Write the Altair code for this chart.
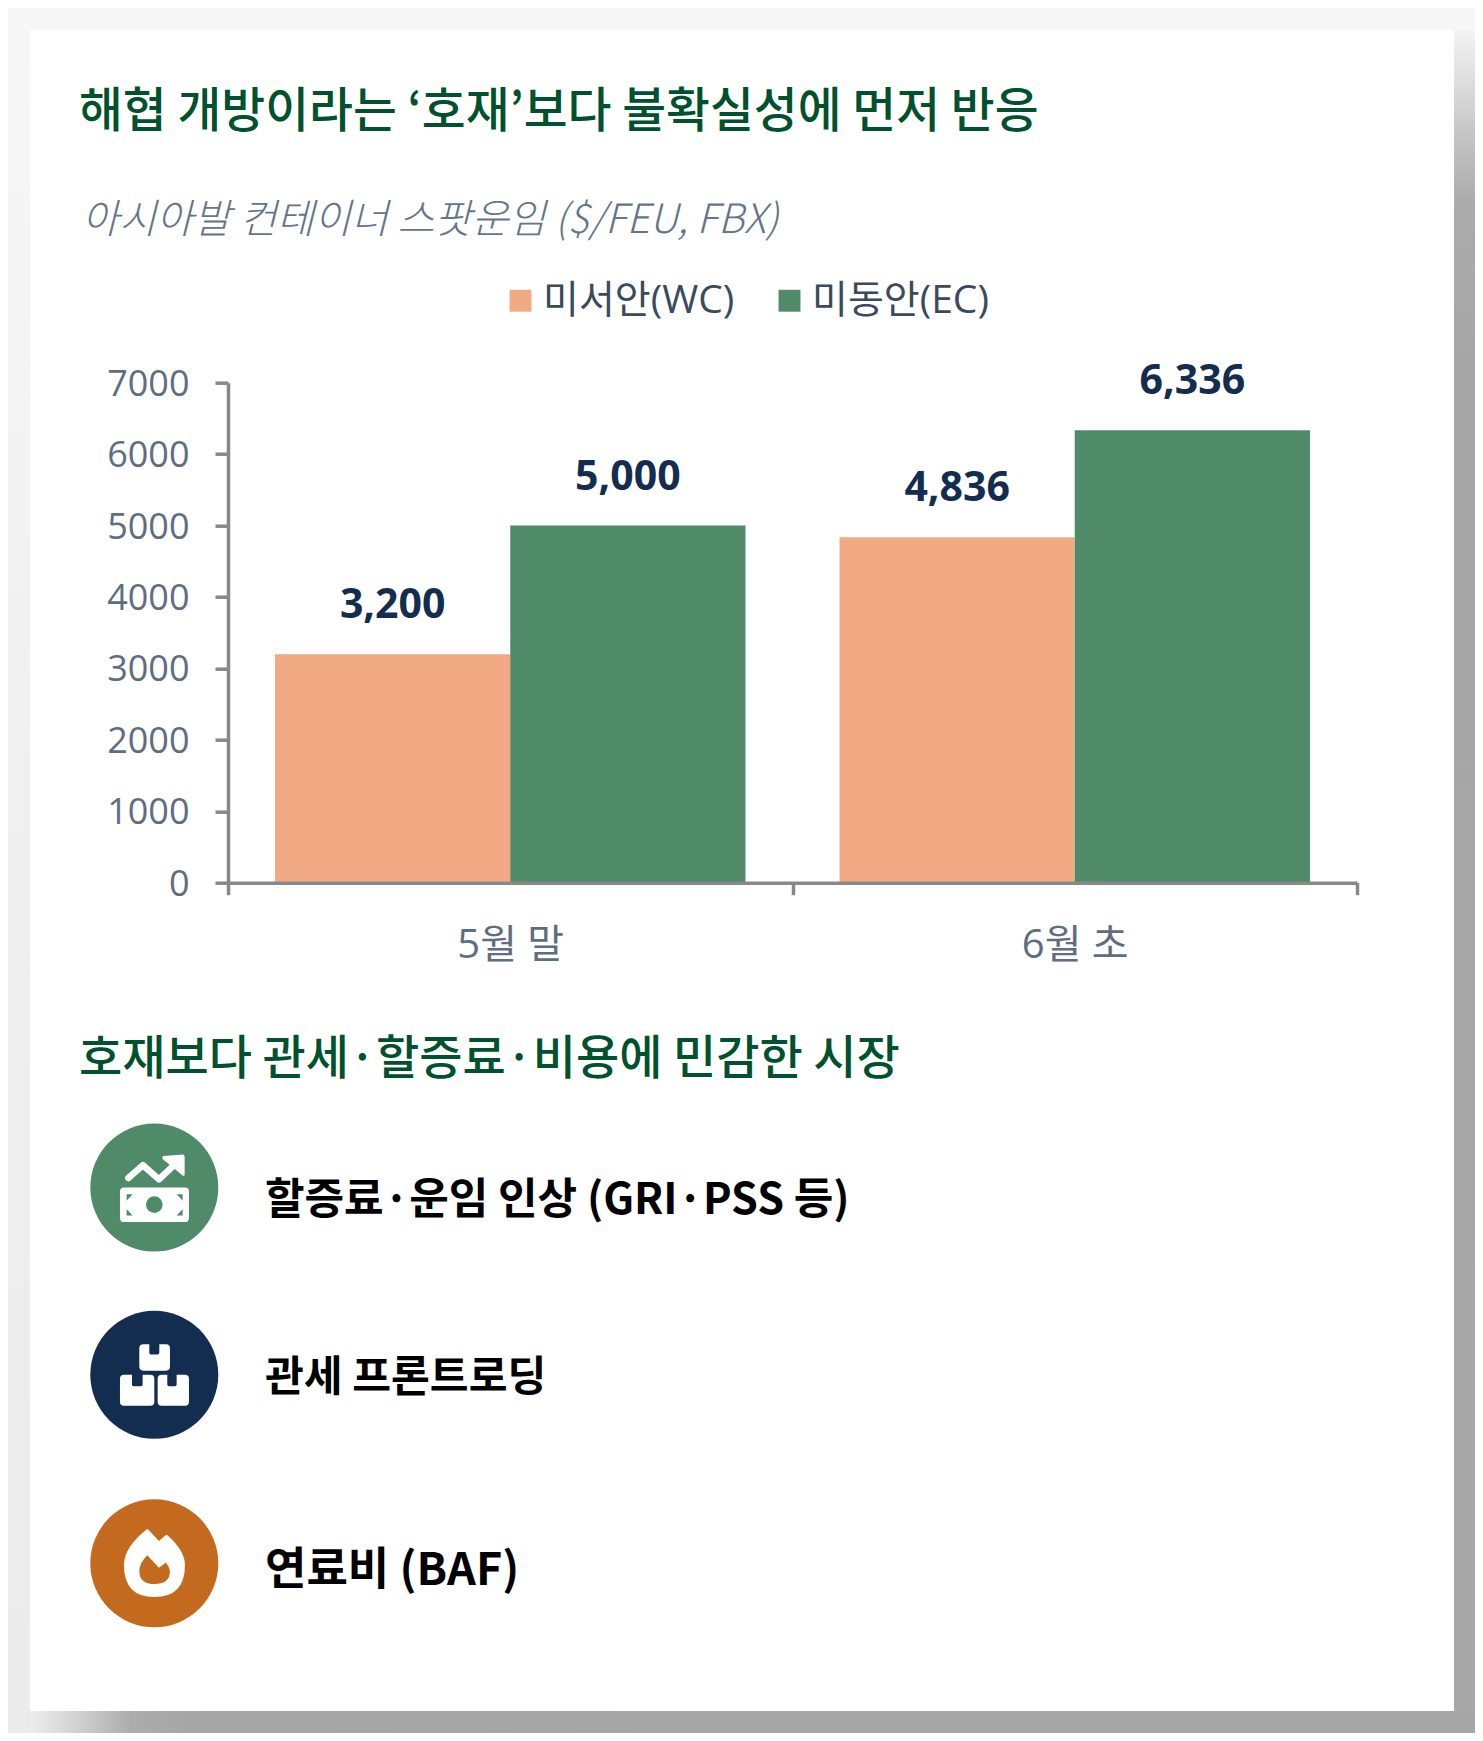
import re
import altair as alt
import pandas as pd

periods = ["5월 말", "6월 초"]
series_names = ["미서안(WC)", "미동안(EC)"]
wc_values = [3200, 4836]
ec_values = [5000, 6336]
y_ticks = [0, 1000, 2000, 3000, 4000, 5000, 6000, 7000]
series_colors = ["#F2AA84", "#4F8A69"]

TITLE = "해협 개방이라는 ‘호재’보다 불확실성에 먼저 반응"
SUBTITLE = "아시아발 컨테이너 스팟운임 ($/FEU, FBX)"
SECTION = "호재보다 관세·할증료·비용에 민감한 시장"
ITEMS = ["할증료·운임 인상 (GRI·PSS 등)", "관세 프론트로딩", "연료비 (BAF)"]
CIRCLE_COLORS = ["#4F8A69", "#122D4F", "#C46A1E"]

KR = "'Noto Sans CJK KR'"
MIX = "'Open Sans','Noto Sans CJK KR'"

# geometry (page pixels)
AX_L, AX_R, AX_T, AX_B = 228.0, 1357.0, 382.7, 882.7
OX, OY = 8.0, 8.0
RIGHT_EDGE, BOTTOM_EDGE = 1475.0, 1733.0
W, H = AX_R - AX_L, AX_B - AX_T
PAD = dict(left=AX_L - OX, top=AX_T - OY, right=RIGHT_EDGE - AX_R, bottom=BOTTOM_EDGE - AX_B)


def vx(x):
    return x - AX_L


def vy(y):
    return y - AX_T


one = pd.DataFrame({"k": [0]})


def rect(x0, x1, y0, y1, color):
    return alt.Chart(one).mark_rect(color=color).encode(
        x=alt.value(vx(x0)), x2=alt.value(vx(x1)), y=alt.value(vy(y0)), y2=alt.value(vy(y1)))


def grad(stops, horizontal):
    return alt.LinearGradient(
        gradient="linear",
        stops=[alt.GradientStop(offset=o, color=c) for o, c in stops],
        x1=0, y1=0, x2=1 if horizontal else 0, y2=0 if horizontal else 1)


def txt(s, x, y, size, color, font=KR, weight="normal", style="normal", align="left"):
    return alt.Chart(pd.DataFrame({"t": [s]})).mark_text(
        text=s, font=font, fontSize=size, color=color, fontWeight=weight, fontStyle=style,
        align=align, baseline="alphabetic").encode(x=alt.value(vx(x)), y=alt.value(vy(y)))


UNIT = 110.0
Y_STRETCH = 1.034


def norm(path):
    return re.sub(r"(-?\d+(?:\.\d+)?),(-?\d+(?:\.\d+)?)",
                  lambda m: f"{float(m.group(1)) / UNIT:.4f},{float(m.group(2)) * Y_STRETCH / UNIT:.4f}", path)


def glyph(path, cx, cy, color="white", stroke=None):
    size = (2 * UNIT / 3) ** 2
    if stroke:
        m = alt.Chart(one).mark_point(shape=norm(path), size=size, filled=False, opacity=1,
                                      stroke=color, strokeWidth=stroke, strokeCap="round",
                                      strokeJoin="round")
    else:
        m = alt.Chart(one).mark_point(shape=norm(path), size=size, filled=True, opacity=1,
                                      fill=color, strokeWidth=0)
    return m.encode(x=alt.value(vx(cx)), y=alt.value(vy(cy)))


def dot(cx, cy, r, color):
    return alt.Chart(one).mark_circle(size=(2 * r) ** 2, color=color, opacity=1).encode(
        x=alt.value(vx(cx)), y=alt.value(vy(cy)))


layers = []
# page background, shadow, card
layers.append(rect(8, RIGHT_EDGE, 8, BOTTOM_EDGE, grad([(0, "#F7F7F7"), (0.5, "#EFEFEF"), (1, "#EBEBEB")], False)))
layers.append(rect(1454, RIGHT_EDGE, 30, BOTTOM_EDGE, grad(
    [(0, "#F3F3F3"), (0.03, "#DEDEDE"), (0.06, "#C6C6C6"), (0.1, "#ACACAC"), (0.2, "#A6A6A6"), (1, "#A8A8A8")], False)))
layers.append(rect(30, RIGHT_EDGE, 1711, BOTTOM_EDGE, grad(
    [(0, "#EDEDED"), (0.025, "#D8D8D8"), (0.05, "#C0C0C0"), (0.07, "#ACACAC"), (0.12, "#A5A5A5"), (1, "#A6A6A6")], True)))
layers.append(rect(30, 1454, 30, 1711, "white"))

# text blocks
layers.append(txt(TITLE, 79, 127, 47.7, "#00512D", weight=500))
layers.append(txt(SUBTITLE, 82, 233, 40.4, "#64748A", style="italic", weight=300))
layers.append(txt(SECTION, 79, 1074, 47, "#00512D", weight=500))
item_y = [1214, 1391, 1585]
item_sizes = [43, 42.2, 45]
for s, y, fs in zip(ITEMS, item_y, item_sizes):
    layers.append(txt(s, 265, y, fs, "#000000", weight=700))

# chart
df = pd.DataFrame({
    "period": periods * 2,
    "series": [series_names[0]] * 2 + [series_names[1]] * 2,
    "value": wc_values + ec_values,
})
df["label"] = df["value"].map(lambda v: f"{v:,}")

x_enc = alt.X("period:N", sort=periods, title=None,
              scale=alt.Scale(paddingInner=0, paddingOuter=0),
              axis=alt.Axis(labelAngle=0, domainColor="#888888", domainWidth=3.5, tickColor="#888888",
                            tickWidth=3.5, tickSize=12, tickBand="extent", labelFont=MIX, labelFontSize=40,
                            labelColor="#5E6E80", labelPadding=31, zindex=1, grid=False))
off_enc = alt.XOffset("series:N", sort=series_names, scale=alt.Scale(paddingOuter=0.2, paddingInner=0))
y_enc = alt.Y("value:Q", title=None, scale=alt.Scale(domain=[0, 7000], nice=False),
              axis=alt.Axis(values=y_ticks, format="d", domainColor="#888888", domainWidth=3.5, tickColor="#888888",
                            tickWidth=3.5, tickSize=13, labelFont=MIX, labelFontSize=36, labelColor="#5E6E80",
                            labelPadding=26, labelOffset=1.5, zindex=1, grid=False))

bars = alt.Chart(df).mark_bar(width={"band": 1}, cornerRadius=0).encode(
    x=x_enc, xOffset=off_enc, y=y_enc,
    color=alt.Color("series:N", sort=series_names, title=None,
                    scale=alt.Scale(domain=series_names, range=series_colors),
                    legend=alt.Legend(orient="none", legendX=vx(501), legendY=vy(281),
                                      direction="horizontal", symbolType="square", symbolSize=480,
                                      symbolStrokeWidth=0, labelFont=MIX, labelFontSize=39, labelColor="#3B4A5C",
                                      labelLimit=400, columnPadding=35, labelOffset=3, zindex=1, title=None)))
labels = alt.Chart(df).mark_text(font=MIX, fontWeight=700, fontSize=41, color="#122D4F", baseline="alphabetic",
                                 dy=-36).encode(
    x=alt.X("period:N", sort=periods), xOffset=alt.XOffset("series:N", sort=series_names),
    y=alt.Y("value:Q"), text="label:N")
layers += [bars, labels]

# icons
cx = 154.3
cy1, cy2, cy3 = 1187.6, 1374.8, 1563.3
for cy, c in zip((cy1, cy2, cy3), CIRCLE_COLORS):
    layers.append(dot(cx, cy, 64, c))

# rising arrow over banknote
layers.append(glyph("M-78,-28 L-34,-65 L14,-24 L60,-66", cx, cy1, stroke=6.5))
layers.append(glyph("M27,-92 L85,-96 Q91,-96 91,-90 L91,-38 Q91,-32 84,-36 L25,-83 Q22,-90 27,-92 Z", cx, cy1))
layers.append(glyph("M-91,0 L92,0 Q104,0 104,12 L104,88 Q104,100 92,100 L-91,100 Q-103,100 -103,88 L-103,12 Q-103,0 -91,0 Z", cx, cy1))
layers.append(dot(cx, cy1 + 17, 8.3, CIRCLE_COLORS[0]))
for p in ("M-83,19 L-65,19 L-83,38 Z", "M67,19 L85,19 L85,38 Z", "M-83,63 L-65,81 L-83,81 Z", "M85,63 L85,81 L67,81 Z"):
    layers.append(glyph(p, cx, cy1, color=CIRCLE_COLORS[0]))

# stacked boxes
for p in ("M-35,-89 L-15,-89 L-15,-64 Q-15,-59 -10,-59 L10,-59 Q15,-59 15,-64 L15,-89 L35,-89 Q47,-89 47,-77 L47,-24 Q47,-12 35,-12 L-33,-12 Q-45,-12 -45,-24 L-45,-77 Q-45,-89 -33,-89 Z",
          "M-91,0 L-67,0 L-67,28 Q-67,33 -62,33 L-40,33 Q-35,33 -35,28 L-35,0 L-12,0 Q0,0 0,12 L0,78 Q0,90 -12,90 L-91,90 Q-103,90 -103,78 L-103,12 Q-103,0 -91,0 Z",
          "M22,0 L39,0 L39,28 Q39,33 44,33 L62,33 Q67,33 67,28 L67,0 L92,0 Q104,0 104,12 L104,78 Q104,90 92,90 L22,90 Q10,90 10,78 L10,12 Q10,0 22,0 Z"):
    layers.append(glyph(p, cx, cy2))

# flame
layers.append(glyph("M-26,-96 Q-21,-101 -16,-96 L14,-65 L32,-80 Q37,-84 42,-79 Q92,-35 92,5 Q92,98 0,98 Q-91,98 -91,5 Q-91,-45 -26,-96 Z", cx, cy3))
layers.append(glyph("M-21,-23 L14,13 L35,-2 Q47,15 47,25 Q45,60 1,60 Q-45,60 -45,22 Q-45,0 -21,-23 Z", cx, cy3, color=CIRCLE_COLORS[2]))

chart = alt.layer(*layers).properties(
    width=W, height=H, padding=PAD,
    autosize=alt.AutoSizeParams(type="none"),
).configure_view(stroke=None)

chart.save("out.html", embed_options={"renderer": "svg", "actions": False})
